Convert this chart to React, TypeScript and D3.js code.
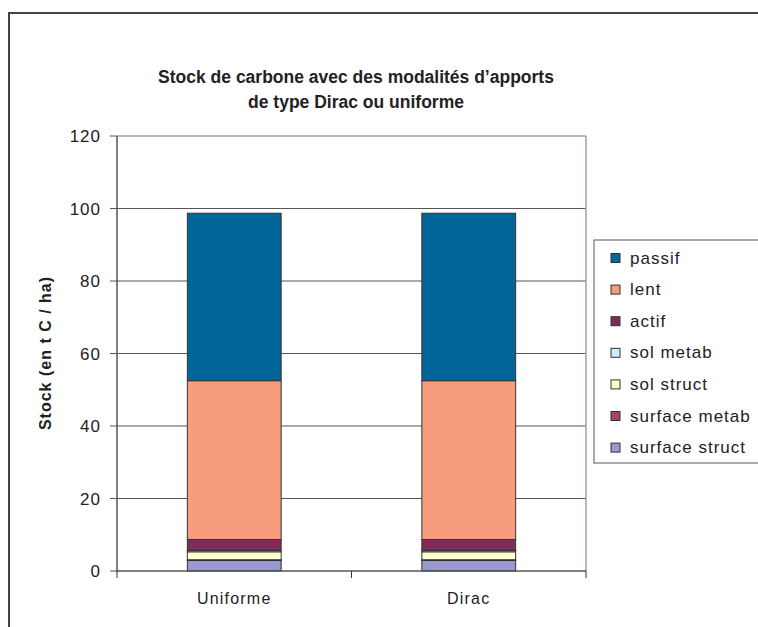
import React from "react";
import * as d3 from "d3";

const categories = ["Uniforme", "Dirac"];
const seriesNames = ["surface struct", "surface metab", "sol struct", "sol metab", "actif", "lent", "passif"];
const seriesColors = ["#9999cc", "#a3455f", "#ffffcc", "#ccecff", "#7e2c5a", "#f79c7c", "#006699"];
const surfaceStruct = [2.9, 2.9];
const surfaceMetab = [0.2, 0.2];
const solStruct = [2.2, 2.2];
const solMetab = [0.4, 0.4];
const actif = [3.0, 3.0];
const lent = [43.8, 43.8];
const passif = [46.2, 46.2];
const yTicks = [0, 20, 40, 60, 80, 100, 120];
const legendOrder = ["passif", "lent", "actif", "sol metab", "sol struct", "surface metab", "surface struct"];

const seriesValues = [surfaceStruct, surfaceMetab, solStruct, solMetab, actif, lent, passif];

export default function App() {
  const W = 758, H = 627;
  const left = 117, right = 586, top = 136, bottom = 571;
  const x = d3.scaleBand().domain(categories).range([left, right]).paddingInner(0.6).paddingOuter(0.3);
  const y = d3.scaleLinear().domain([0, 120]).range([bottom, top]);
  const rows = categories.map((c, i) => {
    const r: any = { cat: c };
    seriesNames.forEach((s, j) => (r[s] = seriesValues[j][i]));
    return r;
  });
  const stacked = d3.stack().keys(seriesNames)(rows);
  const step = (right - left) / categories.length;
  const font = "Liberation Sans, Arial, sans-serif";
  return (
    <svg width={W} height={H} style={{ position: "absolute", left: 0, top: 0 }} fontFamily={font}>
      <rect x={0} y={0} width={W} height={H} fill="#fff" />
      <rect x={9} y={13} width={W + 10} height={H + 10} fill="none" stroke="#444" strokeWidth={2} />
      <text x={356} y={83} textAnchor="middle" fontSize={17.5} fontWeight="bold" fill="#222">
        Stock de carbone avec des modalités d’apports
      </text>
      <text x={356} y={108} textAnchor="middle" fontSize={17.5} fontWeight="bold" fill="#222">
        de type Dirac ou uniforme
      </text>
      {yTicks.map((t) => (
        <g key={t}>
          {t > 0 && t < 120 && <line x1={left} x2={right} y1={y(t)} y2={y(t)} stroke="#555" strokeWidth={1} />}
          <line x1={left - 7} x2={left} y1={y(t)} y2={y(t)} stroke="#555" />
          <text x={101} y={y(t) + 6} textAnchor="end" fontSize={17} letterSpacing={1} fill="#222">{t}</text>
        </g>
      ))}
      <line x1={left} x2={right} y1={top} y2={top} stroke="#a89c9c" strokeWidth={1.5} />
      <line x1={right} x2={right} y1={top} y2={bottom} stroke="#a89c9c" strokeWidth={1.5} />
      {stacked.map((layer, j) =>
        layer.map((d, i) => (
          <rect
            key={j + "-" + i}
            x={x(categories[i])!}
            y={y(d[1])}
            width={x.bandwidth()}
            height={y(d[0]) - y(d[1])}
            fill={seriesColors[j]}
            stroke="#333"
            strokeWidth={1}
          />
        ))
      )}
      <line x1={left} x2={left} y1={top} y2={bottom + 1} stroke="#555" strokeWidth={1.5} />
      <line x1={left} x2={right} y1={bottom} y2={bottom} stroke="#555" strokeWidth={1.5} />
      {d3.range(categories.length + 1).map((k) => (
        <line key={k} x1={left + k * step} x2={left + k * step} y1={bottom} y2={bottom + 7} stroke="#333" />
      ))}
      {categories.map((c) => (
        <text key={c} x={x(c)! + x.bandwidth() / 2} y={604} textAnchor="middle" fontSize={16} letterSpacing={1.2} fill="#222">{c}</text>
      ))}
      <text transform={`translate(51,353) rotate(-90)`} textAnchor="middle" fontSize={16} fontWeight="bold" letterSpacing={1} fill="#222">
        Stock (en t C / ha)
      </text>
      <rect x={594} y={240} width={W} height={223} fill="#fff" stroke="#555" strokeWidth={1} />
      {legendOrder.map((name, k) => {
        const j = seriesNames.indexOf(name);
        const cy = 258 + k * 31.6;
        return (
          <g key={name}>
            <rect x={611} y={cy - 4.5} width={9} height={9} fill={seriesColors[j]} stroke="#333" strokeWidth={1} />
            <text x={630} y={cy + 5.5} fontSize={17} letterSpacing={1} fill="#222">{name}</text>
          </g>
        );
      })}
    </svg>
  );
}
